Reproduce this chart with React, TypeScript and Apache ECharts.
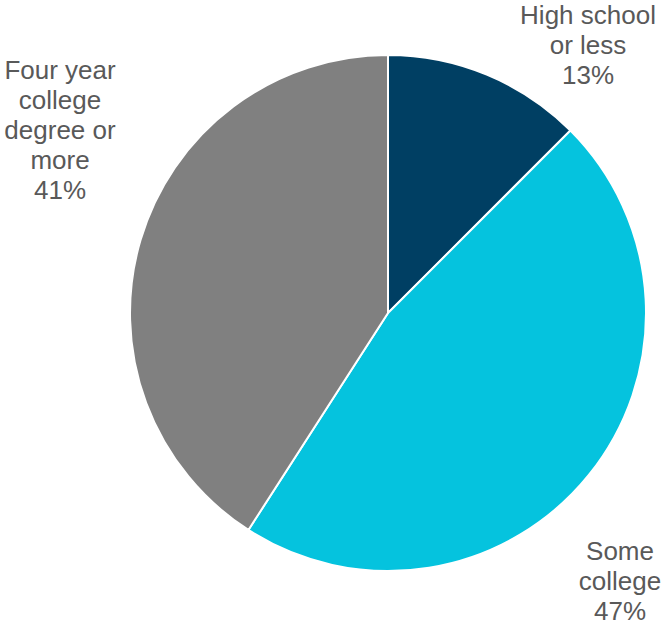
import React, { useEffect, useRef } from "react";
import * as echarts from "echarts";

const categories = ["High school\nor less", "Some\ncollege", "Four year\ncollege\ndegree or\nmore"];
const values = [12.5, 46.6, 40.9];
const colors = ["#003F63", "#05C3DE", "#808080"];
const labelAnchors = [
  [588, 45],
  [620, 581],
  [60, 130],
];

export default function App() {
  const ref = useRef<HTMLDivElement>(null);
  useEffect(() => {
    document.body.style.margin = "0";
    const chart = echarts.init(ref.current!, null, { renderer: "svg" });
    chart.setOption({
      animation: false,
      backgroundColor: "#ffffff",
      series: [
        {
          type: "pie",
          center: [388, 313],
          radius: [0, 258],
          startAngle: 90,
          clockwise: true,
          avoidLabelOverlap: false,
          itemStyle: { borderColor: "#ffffff", borderWidth: 2 },
          label: {
            show: true,
            position: "outside",
            formatter: (p: any) => `${p.name}\n${Math.round(p.value)}%`,
            color: "#595959",
            fontFamily: "Liberation Sans, Arial, sans-serif",
            fontSize: 26,
            lineHeight: 30,
            align: "center",
          },
          labelLine: { show: false },
          labelLayout: (params: any) => {
            const a = labelAnchors[params.dataIndex];
            return { x: a[0], y: a[1], align: "center", verticalAlign: "middle" };
          },
          emphasis: { disabled: true },
          data: categories.map((name, i) => ({
            name,
            value: values[i],
            itemStyle: { color: colors[i] },
          })),
        },
      ],
    });
    return () => chart.dispose();
  }, []);
  return <div ref={ref} style={{ width: 663, height: 626 }} />;
}
